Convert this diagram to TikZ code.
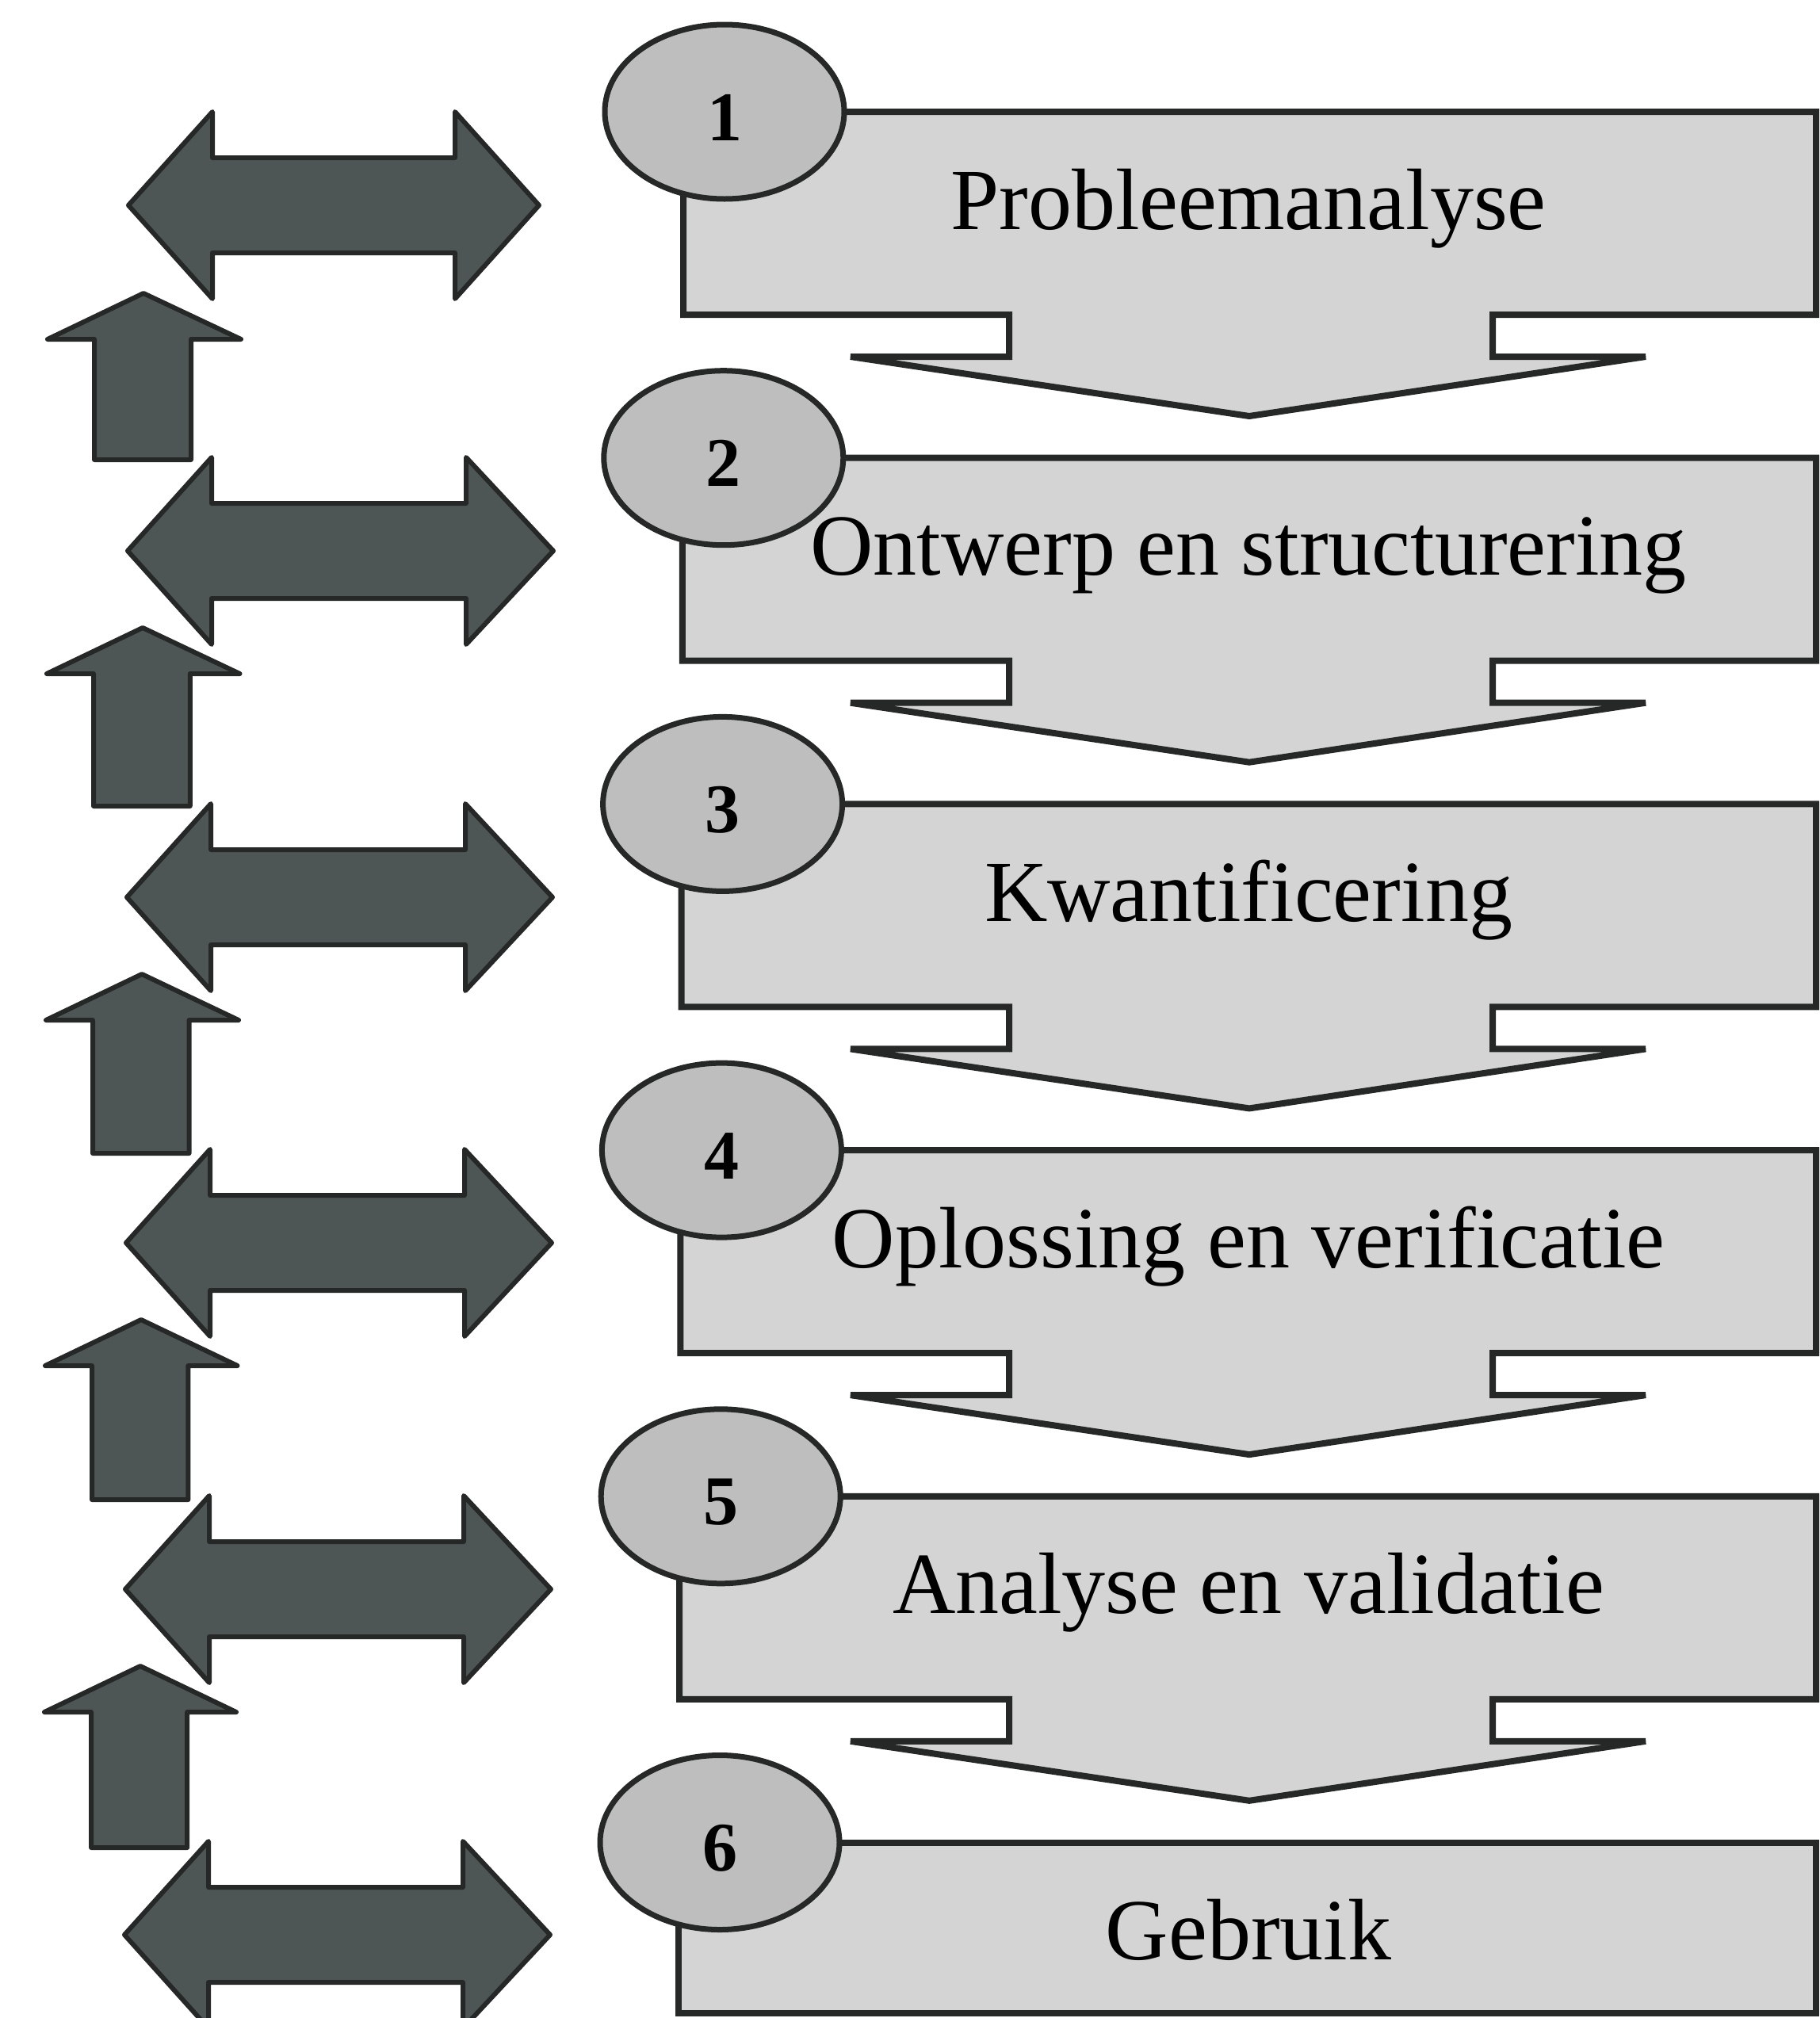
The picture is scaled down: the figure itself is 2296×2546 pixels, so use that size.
\documentclass[tikz,border=0pt]{standalone}
\usepackage{fontspec}
\setmainfont{Liberation Serif}
\usetikzlibrary{shapes.geometric}
\definecolor{boxfill}{HTML}{D4D4D4}
\definecolor{discfill}{HTML}{BEBEBE}
\definecolor{arrowfill}{HTML}{4D5555}
\definecolor{edge}{HTML}{262828}
\begin{document}
\begin{tikzpicture}[x=1pt,y=-1pt,
  stepshape/.style={fill=boxfill,draw=edge,line width=8pt,line join=miter},
  arrowshape/.style={fill=arrowfill,draw=edge,line width=6pt,line join=round},
  disc/.style={ellipse,fill=discfill,draw=edge,line width=7pt,
    minimum width=302pt,minimum height=220pt,inner sep=0pt},
  steplabel/.style={anchor=base,inner sep=0pt,font=\fontsize{110}{120}\selectfont},
  numlabel/.style={inner sep=0pt,font=\fontsize{88}{96}\selectfont\bfseries}]

% page
\fill[white] (0,0) rectangle (2296,2546);
\useasboundingbox (0,0) rectangle (2296,2546);

% left column: double arrows
\foreach \yc/\rb/\rt [count=\k from 0] in
  {259/574/680, 695/588/698, 1132/587/697, 1568/586/696, 2005/585/695, 2441/584/694} {
  \pgfmathsetmacro\lt{162-1*\k}
  \draw[arrowshape] (\lt,\yc) -- (268-\k,\yc-118) -- (268-\k,\yc-60)
    -- (\rb,\yc-60) -- (\rb,\yc-118) -- (\rt,\yc) -- (\rb,\yc+118)
    -- (\rb,\yc+60) -- (268-\k,\yc+60) -- (268-\k,\yc+118) -- cycle;
}

% left column: up arrows
\foreach \tp/\bt [count=\k from 0] in
  {370/580, 792/1017, 1229/1455, 1665/1892, 2102/2331} {
  \draw[arrowshape] (181-\k,\tp) -- (304-1.5*\k,\tp+58) -- (241-1.2*\k,\tp+58)
    -- (241-1.2*\k,\bt) -- (119-1*\k,\bt) -- (119-1*\k,\tp+58)
    -- (60-1*\k,\tp+58) -- cycle;
}

% process steps with numbered discs
\foreach \lab [count=\n from 1] in
  {Probleemanalyse, Ontwerp en structurering, Kwantificering,
   Oplossing en verificatie, Analyse en validatie, Gebruik} {
  \pgfmathsetmacro\T{141+436.7*(\n-1)}
  \pgfmathsetmacro\L{862-1.2*(\n-1)}
  \ifnum\n<6
    \draw[stepshape] (\L,\T) -- (2291,\T) -- (2291,\T+256) -- (1883,\T+256)
      -- (1883,\T+309) -- (2076,\T+309) -- (1576,\T+384) -- (1073,\T+309)
      -- (1273,\T+309) -- (1273,\T+256) -- (\L,\T+256) -- cycle;
  \else
    \draw[stepshape] (\L,\T) rectangle (2291,2540);
  \fi
  \node[steplabel] (lab\n) at (1575,\T+148) {\lab};
  \node[disc] (disc\n) at (\L+52,\T) {};
  \node[numlabel] (num\n) at ([yshift=-7pt]disc\n.center) {\n};
}
\end{tikzpicture}
\end{document}
